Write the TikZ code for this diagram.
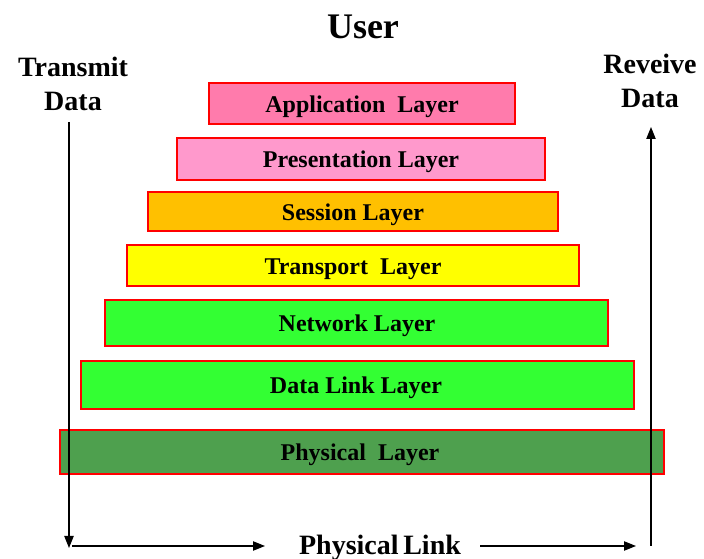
\documentclass[tikz,border=0pt]{standalone}
\usepackage{fontspec}
\setmainfont{Liberation Serif}
\usetikzlibrary{arrows.meta}
\definecolor{appc}{HTML}{FF7BAC}
\definecolor{presc}{HTML}{FF99CC}
\definecolor{sessc}{HTML}{FFC000}
\definecolor{tranc}{HTML}{FFFF00}
\definecolor{netc}{HTML}{33FF33}
\definecolor{physc}{HTML}{4EA04E}
\tikzset{
  layerbox/.style={draw=red, line width=0.9pt},
  layertext/.style={font=\fontsize{18}{20}\selectfont\bfseries},
  sidetext/.style={font=\fontsize{21}{25.5}\selectfont\bfseries, align=center},
  flow/.style={line width=0.9pt, -{Triangle[length=9pt,width=7pt]}},
}
\begin{document}
\begin{tikzpicture}[x=0.75pt,y=-0.75pt]
\useasboundingbox (0,0) rectangle (704,559);
% title
\node[font=\fontsize{27}{30}\selectfont\bfseries] (user) at (363,27) {User};
\node[sidetext] (tx) at (73,84) {Transmit\\Data};
\node[sidetext] (rx) at (650,81) {Reveive\\Data};
% layers
\draw[layerbox, fill=appc]  (209,83)  rectangle (515,124);
\node[layertext] (app) at (362,107) {Application\ \ Layer};
\draw[layerbox, fill=presc] (177,138) rectangle (545,180);
\node[layertext] (pres) at (361,162) {Presentation Layer};
\draw[layerbox, fill=sessc] (148,192) rectangle (558,231);
\node[layertext] (sess) at (353,215) {Session Layer};
\draw[layerbox, fill=tranc] (127,245) rectangle (579,286);
\node[layertext] (tran) at (353,269) {Transport\ \ Layer};
\draw[layerbox, fill=netc]  (105,300) rectangle (608,346);
\node[layertext] (net) at (357,326) {Network Layer};
\draw[layerbox, fill=netc]  (81,361)  rectangle (634,409);
\node[layertext] (dll) at (356,388) {Data Link Layer};
\draw[layerbox, fill=physc] (60,430)  rectangle (664,474);
\node[layertext] (phys) at (360,455) {Physical\ \ Layer};
% physical link
\node[font=\fontsize{21}{25}\selectfont\bfseries] (link) at (380,548) {Physical\,Link};
\coordinate (ltop) at (69,122);
\coordinate (lbot) at (69,548);
\coordinate (lstart) at (72,546);
\coordinate (lend) at (265,546);
\coordinate (rstart) at (480,546);
\coordinate (rbot) at (651,546);
\coordinate (rtop) at (651,127);
\coordinate (rend) at (636,546);
\draw[flow] (ltop) -- (lbot);
\draw[flow] (lstart) -- (lend);
\draw[flow] (rstart) -- (rend);
\draw[flow] (rbot) -- (rtop);
\end{tikzpicture}
\end{document}
